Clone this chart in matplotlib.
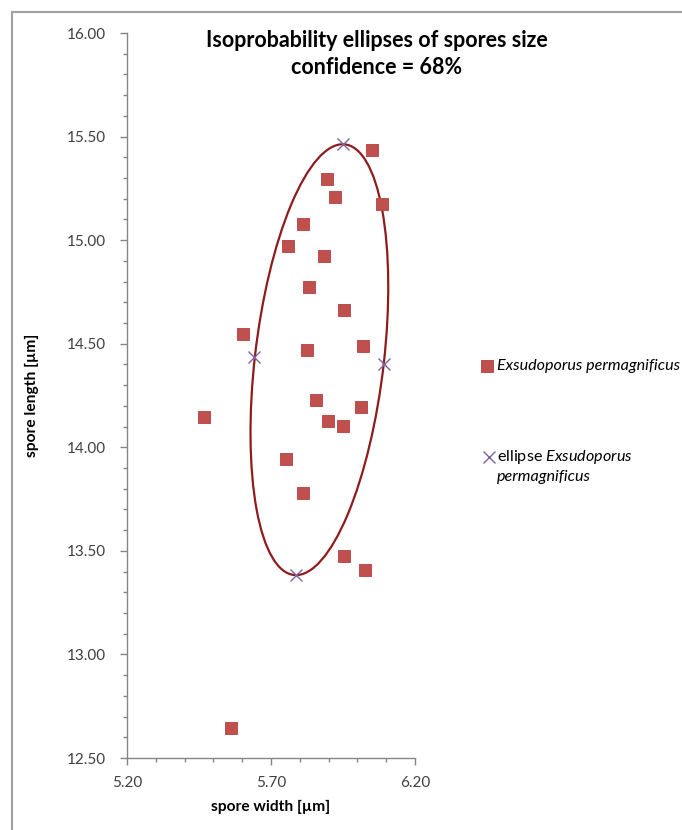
import numpy as np
import matplotlib
matplotlib.use("Agg")
import matplotlib.pyplot as plt
from matplotlib.patches import Ellipse, Rectangle
from matplotlib.lines import Line2D
from matplotlib.ticker import MultipleLocator, FormatStrFormatter

plt.rcParams['font.family'] = ['Lato', 'DejaVu Sans']
plt.rcParams['mathtext.fontset'] = 'custom'
plt.rcParams['mathtext.rm'] = 'Lato'
plt.rcParams['mathtext.it'] = 'Lato:italic'

# spore measurements (width, length) in um
spore_width = [6.051, 6.085, 5.894, 5.922, 5.811, 5.759, 5.884, 5.832, 5.953,
               5.603, 5.825, 6.019, 5.856, 6.013, 5.898, 5.950, 5.467, 5.752,
               5.811, 5.953, 6.026, 5.561]
spore_length = [15.435, 15.174, 15.295, 15.208, 15.078, 14.971, 14.923, 14.774,
                14.663, 14.547, 14.469, 14.489, 14.228, 14.194, 14.127, 14.102,
                14.146, 13.943, 13.779, 13.475, 13.407, 12.644]

# points marked on the ellipse
ell_width = [5.949, 5.641, 5.787, 6.091]
ell_length = [15.463, 14.436, 13.383, 14.402]

# 68% ellipse: centre and shape matrix
ell_center = (5.868, 14.423)
ell_shape = [[0.0572, 0.0842], [0.0842, 1.0816]]

species = 'Exsudoporus permagnificus'
sq_color = '#C0504D'
x_color = '#8064A2'
line_color = '#8E1C1C'

W, H = 682, 830
fig = plt.figure(figsize=(W / 100, H / 100), dpi=100)
ax = fig.add_axes([127 / W, 1 - 758 / H, (415 - 127) / W, (758 - 33) / H])

# outer chart frame
fig.add_artist(Rectangle((12 / W, -0.05), 1.2, 1 - 12 / H + 0.05,
                         transform=fig.transFigure, fill=False,
                         edgecolor='#a0a0a0', lw=1.5))

vals, vecs = np.linalg.eigh(np.array(ell_shape))
ang = np.degrees(np.arctan2(vecs[1, 1], vecs[0, 1]))
ax.add_patch(Ellipse(ell_center, 2 * np.sqrt(vals[1]), 2 * np.sqrt(vals[0]),
                     angle=ang, fill=False, edgecolor=line_color, lw=1.6,
                     zorder=2))

ax.plot(spore_width, spore_length, ls='none', marker='s', ms=8.5,
        mfc=sq_color, mec='#B5403D', mew=0.6, zorder=3)
ax.plot(ell_width, ell_length, ls='none', marker='x', ms=8, mew=1.0,
        color=x_color, zorder=4)

ax.set_xlim(5.2, 6.2)
ax.set_ylim(12.5, 16.0)
ax.xaxis.set_major_locator(MultipleLocator(0.5, offset=0.2))
ax.xaxis.set_minor_locator(MultipleLocator(0.1))
ax.yaxis.set_major_locator(MultipleLocator(0.5))
ax.yaxis.set_minor_locator(MultipleLocator(0.1))
ax.xaxis.set_major_formatter(FormatStrFormatter('%.2f'))
ax.yaxis.set_major_formatter(FormatStrFormatter('%.2f'))

for s in ['top', 'right']:
    ax.spines[s].set_visible(False)
for s in ['left', 'bottom']:
    ax.spines[s].set_color('#868686')
    ax.spines[s].set_linewidth(1.0)
ax.tick_params(which='major', direction='out', length=5, width=1,
               color='#868686', labelsize=11, labelcolor='#404040')
ax.tick_params(which='minor', direction='out', length=3, width=1,
               color='#868686')
ax.tick_params(axis='y', which='major', pad=10)
ax.tick_params(axis='x', which='major', pad=8)

ax.set_xlabel('spore width [µm]', fontsize=11.2, fontweight='bold',
              labelpad=7)
ax.set_ylabel('spore length [µm]', fontsize=11.2, fontweight='bold',
              labelpad=20)

fig.text(377 / W, 1 - 54 / H,
         'Isoprobability ellipses of spores size\nconfidence = 68%',
         ha='center', va='center', fontsize=15.5, fontweight='bold',
         linespacing=1.3)

# legend drawn by hand, Excel style
fig.add_artist(Line2D([487 / W], [1 - 366 / H], ls='none', marker='s', ms=8.5,
                      mfc=sq_color, mec='#B5403D', mew=0.6,
                      transform=fig.transFigure))
fig.text(497 / W, 1 - 366 / H, species, style='italic', fontsize=11.6,
         va='center', ha='left')
fig.add_artist(Line2D([489 / W], [1 - 457 / H], ls='none', marker='x', ms=8,
                      mew=1.0, color=x_color, transform=fig.transFigure))
fig.text(497 / W, 1 - 457 / H, r'ellipse $\mathit{Exsudoporus}$',
         fontsize=11.6, va='center', ha='left')
fig.text(497 / W, 1 - 477 / H, 'permagnificus', style='italic',
         fontsize=11.6, va='center', ha='left')

fig.savefig('out.png', dpi=100)
